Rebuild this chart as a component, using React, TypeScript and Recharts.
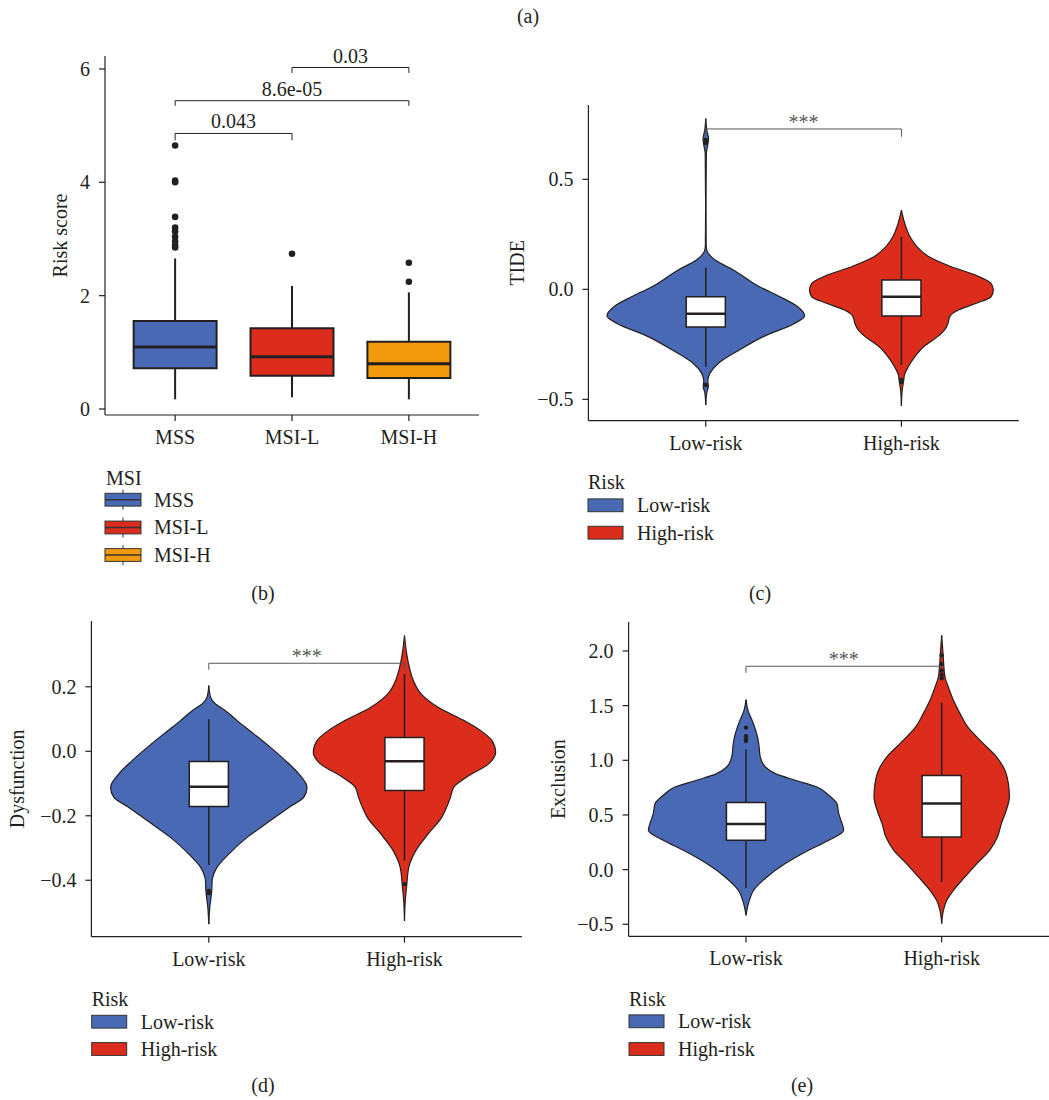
import React from "react";
import {
  Area,
  ComposedChart,
  ReferenceArea,
  ReferenceLine,
  Scatter,
  XAxis,
  YAxis,
} from "recharts";

const FONT = '"Liberation Serif", "Times New Roman", serif';
const INK = "#231f20";
const BLUE = "#4a69b4";
const RED = "#dc2d1c";
const ORANGE = "#f29a0c";

// ---- (b) risk score by MSI status ----
const msiGroups = ["MSS", "MSI-L", "MSI-H"];
const msiColors = [BLUE, RED, ORANGE];
const msiPositions = [1, 2, 3];
const riskScoreTicks = [0, 2, 4, 6];
// lower whisker, q1, median, q3, upper whisker
const mssBox = [0.171, 0.717, 1.093, 1.552, 2.657];
const msiLBox = [0.206, 0.588, 0.923, 1.423, 2.17];
const msiHBox = [0.171, 0.547, 0.799, 1.187, 2.058];
const mssOutliers = [4.65, 4.03, 4.0, 3.39, 3.2, 3.13, 3.04, 2.96, 2.89, 2.85];
const msiLOutliers = [2.74];
const msiHOutliers = [2.58, 2.245];
const msiPFrom = [1, 1, 2];
const msiPTo = [2, 3, 3];
const msiPY = [4.862, 5.44, 6.026];
const msiPTip = [4.74, 5.35, 5.93];
const msiPLabels = ["0.043", "8.6e-05", "0.03"];

// ---- risk groups, shared by (c) (d) (e) ----
const riskGroups = ["Low-risk", "High-risk"];
const riskColors = [BLUE, RED];

// ---- (c) TIDE ----
const tideTicks = [-0.5, 0, 0.5];
const tideLowY = [0.777, 0.72, 0.685, 0.655, 0.62, 0.4, 0.2, 0.175, 0.16, 0.133, 0.088, 0.012, -0.034, -0.079, -0.121, -0.155, -0.215, -0.276, -0.336, -0.382, -0.415, -0.44, -0.47, -0.526];
const tideLowW = [0, 0.006, 0.014, 0.01, 0.003, 0.001, 0.002, 0.006, 0.016, 0.048, 0.141, 0.275, 0.38, 0.47, 0.505, 0.453, 0.294, 0.171, 0.065, 0.021, 0.01, 0.013, 0.005, 0];
const tideHighY = [0.36, 0.3, 0.239, 0.194, 0.148, 0.103, 0.065, 0.027, -0.003, -0.034, -0.064, -0.094, -0.124, -0.155, -0.185, -0.215, -0.26, -0.306, -0.352, -0.39, -0.412, -0.46, -0.53];
const tideHighW = [0, 0.017, 0.044, 0.079, 0.141, 0.255, 0.379, 0.458, 0.47, 0.458, 0.38, 0.291, 0.247, 0.238, 0.22, 0.185, 0.115, 0.069, 0.035, 0.015, 0.012, 0.004, 0];
const tideLowBox = [-0.352, -0.171, -0.111, -0.034, 0.098];
const tideHighBox = [-0.344, -0.121, -0.034, 0.042, 0.239];
const tideLowOut = [0.679, 0.665, -0.435];
const tideHighOut = [-0.412, -0.42];
const tideBracket = [0.729, 0.694];

// ---- (d) Dysfunction ----
const dysTicks = [-0.4, -0.2, 0, 0.2];
const dysLowY = [0.204, 0.168, 0.147, 0.126, 0.095, 0.054, 0.012, -0.029, -0.07, -0.112, -0.143, -0.174, -0.215, -0.267, -0.319, -0.36, -0.402, -0.433, -0.484, -0.536];
const dysLowW = [0, 0.009, 0.034, 0.085, 0.145, 0.23, 0.315, 0.392, 0.46, 0.502, 0.485, 0.409, 0.315, 0.196, 0.102, 0.042, 0.017, 0.015, 0.005, 0];
const dysHighY = [0.359, 0.3, 0.26, 0.22, 0.178, 0.137, 0.095, 0.064, 0.033, -0.003, -0.039, -0.081, -0.112, -0.143, -0.174, -0.205, -0.257, -0.308, -0.36, -0.412, -0.464, -0.526];
const dysHighW = [0, 0.012, 0.025, 0.045, 0.085, 0.17, 0.305, 0.39, 0.447, 0.466, 0.43, 0.315, 0.251, 0.235, 0.215, 0.19, 0.12, 0.058, 0.022, 0.012, 0.004, 0];
const dysLowBox = [-0.353, -0.171, -0.11, -0.032, 0.099];
const dysHighBox = [-0.339, -0.122, -0.031, 0.043, 0.24];
const dysLowOut = [-0.433, -0.44];
const dysHighOut = [-0.412];
const dysBracket = [0.273, 0.253];

// ---- (e) Exclusion ----
const exclTicks = [-0.5, 0, 0.5, 1, 1.5, 2];
const exclLowY = [1.555, 1.457, 1.366, 1.299, 1.22, 1.153, 1.03, 0.939, 0.878, 0.817, 0.756, 0.68, 0.604, 0.512, 0.421, 0.36, 0.268, 0.177, 0.055, -0.067, -0.189, -0.281, -0.418];
const exclLowW = [0, 0.01, 0.031, 0.045, 0.058, 0.065, 0.073, 0.099, 0.15, 0.252, 0.363, 0.423, 0.465, 0.474, 0.491, 0.499, 0.423, 0.32, 0.201, 0.107, 0.039, 0.017, 0];
const exclHighY = [2.144, 2.0, 1.915, 1.762, 1.671, 1.549, 1.427, 1.305, 1.153, 1.03, 0.909, 0.787, 0.665, 0.543, 0.421, 0.298, 0.177, 0.055, -0.067, -0.189, -0.281, -0.372, -0.494];
const exclHighW = [0, 0.006, 0.009, 0.017, 0.034, 0.06, 0.094, 0.133, 0.213, 0.281, 0.323, 0.341, 0.346, 0.33, 0.305, 0.285, 0.245, 0.18, 0.119, 0.06, 0.026, 0.009, 0];
const exclLowBox = [-0.168, 0.268, 0.417, 0.613, 1.098];
const exclHighBox = [-0.113, 0.298, 0.604, 0.86, 1.528];
const exclLowOut = [1.299, 1.22, 1.19, 1.177];
const exclHighOut = [1.75, 1.78, 1.82, 1.88, 1.96];
const exclBracket = [1.86, 1.8];

const tickStyle = { fill: INK, fontSize: 20, fontFamily: FONT };

function frameFor(plotLeft: number, plotTop: number, plotRight: number, plotBottom: number, titleX: number) {
  const yAxisWidth = 2 * (plotLeft - titleX);
  const left = plotLeft - yAxisWidth - 4;
  const top = plotTop - 10;
  const xAxisHeight = 50;
  return {
    left,
    top,
    width: plotRight + 10 - left,
    height: plotBottom + xAxisHeight + 10 - top,
    yAxisWidth,
    xAxisHeight,
    margin: { top: 10, right: 10, bottom: 10, left: 4 },
  };
}

function fmtSigned(v: number) {
  const s = Math.abs(v).toFixed(1);
  return v < 0 ? "\u2212" + s : s;
}

function boxParts(key: string, pos: number, stats: number[], half: number, fill: string, lineW: number, medW: number) {
  const [lo, q1, med, q3, hi] = stats;
  return [
    <ReferenceLine key={key + "w"} segment={[{ x: pos, y: lo }, { x: pos, y: hi }]} stroke={INK} strokeWidth={lineW} zIndex={410} />,
    <ReferenceArea key={key + "b"} x1={pos - half} x2={pos + half} y1={q1} y2={q3} fill={fill} fillOpacity={1} stroke={INK} strokeWidth={lineW} zIndex={420} />,
    <ReferenceLine key={key + "m"} segment={[{ x: pos - half, y: med }, { x: pos + half, y: med }]} stroke={INK} strokeWidth={medW} zIndex={430} />,
  ];
}

function bracketParts(key: string, x1: number, x2: number, y: number, tip: number, label: string, color: string, offset: number, position: string) {
  return [
    <ReferenceLine
      key={key + "h"}
      segment={[{ x: x1, y }, { x: x2, y }]}
      stroke={color}
      strokeWidth={1}
      zIndex={440}
      label={{ value: label, position, offset, fill: color, fontSize: 20, fontFamily: FONT }}
    />,
    <ReferenceLine key={key + "l"} segment={[{ x: x1, y }, { x: x1, y: tip }]} stroke={color} strokeWidth={1} zIndex={440} />,
    <ReferenceLine key={key + "r"} segment={[{ x: x2, y }, { x: x2, y: tip }]} stroke={color} strokeWidth={1} zIndex={440} />,
  ];
}

const dotShape = (r: number) => (p: any) => <circle cx={p.cx} cy={p.cy} r={r} fill={INK} />;

function MsiPanel() {
  const f = frameFor(105, 56, 479, 415, 60);
  const outliers = [mssOutliers, msiLOutliers, msiHOutliers].flatMap((vals, i) =>
    vals.map((y) => ({ x: msiPositions[i], y }))
  );
  const boxes = [mssBox, msiLBox, msiHBox];
  return (
    <div style={{ position: "absolute", left: f.left, top: f.top }}>
      <ComposedChart width={f.width} height={f.height} margin={f.margin}>
        <XAxis
          type="number"
          dataKey="x"
          domain={[0.4, 3.6]}
          ticks={msiPositions}
          interval={0}
          allowDataOverflow
          tickFormatter={(v) => msiGroups[v - 1]}
          stroke={INK}
          strokeWidth={1.2}
          tick={tickStyle}
          tickSize={6}
          tickMargin={9}
          height={f.xAxisHeight}
        />
        <YAxis
          type="number"
          dataKey="y"
          domain={[-0.106, 6.229]}
          ticks={riskScoreTicks}
          interval={0}
          allowDataOverflow
          stroke={INK}
          strokeWidth={1.2}
          tick={tickStyle}
          tickSize={6}
          tickMargin={9}
          width={f.yAxisWidth}
          label={{ value: "Risk score", angle: -90, position: "center", fill: INK, fontSize: 20, fontFamily: FONT }}
        />
        {boxes.map((b, i) => boxParts("msi" + i, msiPositions[i], b, 0.355, msiColors[i], 2, 3))}
        <Scatter data={outliers} isAnimationActive={false} shape={dotShape(3.3)} />
        {msiPLabels.map((lab, i) =>
          bracketParts("p" + i, msiPFrom[i], msiPTo[i], msiPY[i], msiPTip[i], lab, INK, 5, "top")
        )}
      </ComposedChart>
    </div>
  );
}

interface Violin {
  ys: number[];
  ws: number[];
  box: number[];
  out: number[];
}

interface ViolinProps {
  frame: ReturnType<typeof frameFor>;
  title: string;
  yDomain: [number, number];
  yTicks: number[];
  violins: Violin[];
  bracket: number[];
}

function ViolinPanel({ frame: f, title, yDomain, yTicks, violins, bracket }: ViolinProps) {
  const outliers = violins.flatMap((v, i) => v.out.map((y) => ({ x: i + 1, y })));
  return (
    <div style={{ position: "absolute", left: f.left, top: f.top }}>
      <ComposedChart layout="vertical" width={f.width} height={f.height} margin={f.margin}>
        <XAxis
          type="number"
          dataKey="x"
          domain={[0.4, 2.6]}
          ticks={[1, 2]}
          interval={0}
          allowDataOverflow
          tickFormatter={(v) => riskGroups[v - 1]}
          stroke={INK}
          strokeWidth={1.2}
          tick={tickStyle}
          tickSize={6}
          tickMargin={9}
          height={f.xAxisHeight}
        />
        <YAxis
          type="number"
          dataKey="y"
          reversed
          domain={yDomain}
          ticks={yTicks}
          interval={0}
          allowDataOverflow
          tickFormatter={fmtSigned}
          stroke={INK}
          strokeWidth={1.2}
          tick={tickStyle}
          tickSize={6}
          tickMargin={9}
          width={f.yAxisWidth}
          label={{ value: title, angle: -90, position: "center", fill: INK, fontSize: 20, fontFamily: FONT }}
        />
        {violins.map((v, i) => (
          <Area
            key={"v" + i}
            data={v.ys.map((y, j) => ({ y, range: [i + 1 - v.ws[j], i + 1 + v.ws[j]] }))}
            dataKey="range"
            type="monotone"
            fill={riskColors[i]}
            fillOpacity={1}
            stroke={INK}
            strokeWidth={1.2}
            dot={false}
            activeDot={false}
            isAnimationActive={false}
          />
        ))}
        {violins.map((v, i) => boxParts("b" + i, i + 1, v.box, 0.1, "#ffffff", 1.5, 2.5))}
        <Scatter data={outliers} isAnimationActive={false} shape={dotShape(2.2)} />
        {bracketParts("sig", 1, 2, bracket[0], bracket[1], "***", "#555555", 0, "top")}
      </ComposedChart>
    </div>
  );
}

function Overlay() {
  const t = { fill: INK, fontSize: 20, fontFamily: FONT } as const;
  const riskLegend = (x: number, titleBase: number, centers: number[]) => (
    <g>
      <text x={x} y={titleBase} {...t}>Risk</text>
      {riskGroups.map((g, i) => (
        <g key={g}>
          <rect x={x} y={centers[i] - 6.4} width={35} height={12.8} fill={riskColors[i]} stroke="#333" strokeWidth={1} />
          <text x={x + 49} y={centers[i] + 6.8} {...t}>{g}</text>
        </g>
      ))}
    </g>
  );
  const msiCenters = [499.7, 527.5, 555];
  return (
    <svg width={1049} height={1100} style={{ position: "absolute", left: 0, top: 0, pointerEvents: "none" }}>
      <text x={528} y={23} textAnchor="middle" {...t}>(a)</text>
      <text x={263} y={600} textAnchor="middle" {...t}>(b)</text>
      <text x={760} y={600} textAnchor="middle" {...t}>(c)</text>
      <text x={263} y={1092} textAnchor="middle" {...t}>(d)</text>
      <text x={802} y={1092} textAnchor="middle" {...t}>(e)</text>

      <text x={106} y={485} {...t}>MSI</text>
      {msiGroups.map((g, i) => (
        <g key={g}>
          <line x1={123} x2={123} y1={msiCenters[i] - 10} y2={msiCenters[i] + 10} stroke="#333" strokeWidth={1} />
          <rect x={105} y={msiCenters[i] - 6.4} width={36} height={12.8} fill={msiColors[i]} stroke="#333" strokeWidth={1} />
          <line x1={105} x2={141} y1={msiCenters[i]} y2={msiCenters[i]} stroke="#333" strokeWidth={1.4} />
          <text x={154} y={msiCenters[i] + 6.8} {...t}>{g}</text>
        </g>
      ))}

      {riskLegend(588, 489.3, [505.3, 532.7])}
      {riskLegend(91.7, 1005.7, [1021.7, 1049])}
      {riskLegend(629, 1006, [1021.3, 1049])}
    </svg>
  );
}

export default function App() {
  return (
    <div
      style={{
        position: "absolute",
        left: 0,
        top: 0,
        width: 1049,
        height: 1100,
        overflow: "hidden",
        background: "#ffffff",
        fontFamily: FONT,
      }}
    >
      <MsiPanel />
      <ViolinPanel
        frame={frameFor(588.2, 105, 1018.6, 420.7, 516.5)}
        title="TIDE"
        yDomain={[-0.597, 0.838]}
        yTicks={tideTicks}
        violins={[
          { ys: tideLowY, ws: tideLowW, box: tideLowBox, out: tideLowOut },
          { ys: tideHighY, ws: tideHighW, box: tideHighBox, out: tideHighOut },
        ]}
        bracket={tideBracket}
      />
      <ViolinPanel
        frame={frameFor(90.9, 620.6, 521.4, 936.3, 16.7)}
        title="Dysfunction"
        yDomain={[-0.575, 0.404]}
        yTicks={dysTicks}
        violins={[
          { ys: dysLowY, ws: dysLowW, box: dysLowBox, out: dysLowOut },
          { ys: dysHighY, ws: dysHighW, box: dysHighBox, out: dysHighOut },
        ]}
        bracket={dysBracket}
      />
      <ViolinPanel
        frame={frameFor(628.6, 621.7, 1059.1, 936, 558.3)}
        title="Exclusion"
        yDomain={[-0.61, 2.265]}
        yTicks={exclTicks}
        violins={[
          { ys: exclLowY, ws: exclLowW, box: exclLowBox, out: exclLowOut },
          { ys: exclHighY, ws: exclHighW, box: exclHighBox, out: exclHighOut },
        ]}
        bracket={exclBracket}
      />
      <Overlay />
    </div>
  );
}
